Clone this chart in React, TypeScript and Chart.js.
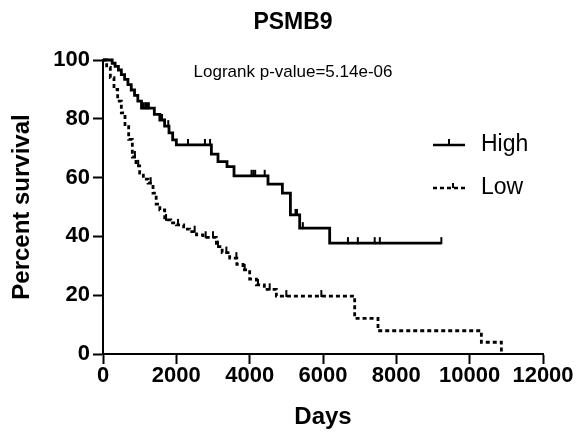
import React, { useEffect, useRef } from "react";
import { Chart, registerables } from "chart.js";

Chart.register(...registerables);

const FONT = '"Liberation Sans", Arial, Helvetica, sans-serif';

const titleText = "PSMB9";
const subtitleText = "Logrank p-value=5.14e-06";
const xTitle = "Days";
const yTitle = "Percent survival";
const seriesNames = ["High", "Low"];
const xTickValues = [0, 2000, 4000, 6000, 8000, 10000, 12000];
const yTickValues = [0, 20, 40, 60, 80, 100];

// Kaplan-Meier step points (day of event, survival after event)
const highDays = [0, 250, 330, 420, 500, 590, 680, 770, 860, 950, 1050, 1400, 1550, 1680, 1800, 1900, 2000, 2956, 3136, 3382, 3573, 4500, 4892, 5111, 5364, 6182, 9228];
const highSurv = [100, 98.9, 97.8, 96.6, 95.0, 93.4, 91.6, 89.8, 88.0, 86.0, 83.6, 81.5, 79.6, 77.5, 75.2, 72.8, 71.1, 68.0, 65.4, 63.7, 60.6, 57.8, 54.7, 47.3, 42.8, 37.7, 37.7];
const highCensorDays = [1100, 1150, 1200, 1250, 1560, 1610, 1780, 2318, 2780, 2920, 4050, 4100, 4150, 4410, 5250, 5290, 5450, 6680, 6950, 7410, 7550, 9228];

const lowDays = [0, 100, 200, 300, 400, 500, 600, 700, 800, 900, 1000, 1100, 1228, 1364, 1450, 1550, 1683, 1850, 2000, 2200, 2364, 2550, 2727, 3092, 3250, 3455, 3650, 3818, 4000, 4183, 4400, 4728, 6864, 7500, 10319, 10865];
const lowSurv = [100, 97.5, 94, 90, 86, 82, 78, 73, 67, 64, 61.5, 59.5, 58.1, 54.7, 51, 49, 45.6, 44.6, 43.9, 42.5, 41.6, 40.5, 39.7, 36.5, 34.5, 32.6, 30.5, 28.6, 25.5, 23.5, 22, 19.7, 12.1, 7.9, 4.0, 0];
const lowCensorDays = [870, 960, 1300, 1720, 2045, 2500, 2800, 3000, 3136, 3365, 3638, 3864, 4227, 4546, 5000, 5955];

function survivalAt(days: number[], surv: number[], t: number): number {
  let s = surv[0];
  for (let i = 0; i < days.length; i++) {
    if (days[i] <= t) s = surv[i];
  }
  return s;
}

const censorPlugin = {
  id: "censorMarks",
  afterDatasetsDraw(chart: any) {
    const { ctx, scales } = chart;
    const xs = scales.x;
    const ys = scales.y;
    const groups = [
      { days: highDays, surv: highSurv, censor: highCensorDays },
      { days: lowDays, surv: lowSurv, censor: lowCensorDays },
    ];
    ctx.save();
    ctx.strokeStyle = "#000";
    ctx.lineWidth = 2;
    for (const g of groups) {
      for (const t of g.censor) {
        const s = survivalAt(g.days, g.surv, t);
        const x = xs.getPixelForValue(t);
        const y = ys.getPixelForValue(s);
        ctx.beginPath();
        ctx.moveTo(x, y + 1);
        ctx.lineTo(x, y - 6);
        ctx.stroke();
      }
    }
    ctx.restore();
  },
};

const textPlugin = {
  id: "textAndLegend",
  afterDraw(chart: any) {
    const { ctx } = chart;
    ctx.save();
    ctx.fillStyle = "#000";
    ctx.textAlign = "center";
    ctx.textBaseline = "middle";
    ctx.font = `bold 23px ${FONT}`;
    ctx.fillText(titleText, 293, 23);
    ctx.font = `17px ${FONT}`;
    ctx.fillText(subtitleText, 293, 72);

    // legend
    ctx.strokeStyle = "#000";
    ctx.lineWidth = 2.5;
    ctx.beginPath();
    ctx.moveTo(433, 145);
    ctx.lineTo(465, 145);
    ctx.stroke();
    ctx.lineWidth = 2;
    ctx.beginPath();
    ctx.moveTo(449, 145);
    ctx.lineTo(449, 139);
    ctx.stroke();

    ctx.lineWidth = 2.5;
    ctx.setLineDash([4, 3]);
    ctx.beginPath();
    ctx.moveTo(433, 188);
    ctx.lineTo(465, 188);
    ctx.stroke();
    ctx.setLineDash([]);
    ctx.lineWidth = 2;
    ctx.beginPath();
    ctx.moveTo(453, 188);
    ctx.lineTo(453, 183);
    ctx.stroke();

    ctx.textAlign = "left";
    ctx.font = `23px ${FONT}`;
    ctx.fillText(seriesNames[0], 481, 145);
    ctx.fillText(seriesNames[1], 481, 188);
    ctx.restore();
  },
};

export default function App() {
  const ref = useRef<HTMLCanvasElement | null>(null);

  useEffect(() => {
    const canvas = ref.current;
    if (!canvas) return;
    const chart = new Chart(canvas, {
      type: "line",
      data: {
        datasets: [
          {
            label: seriesNames[0],
            data: highDays.map((d, i) => ({ x: d, y: highSurv[i] })),
            borderColor: "#000",
            borderWidth: 2.8,
            stepped: true,
            pointRadius: 0,
            fill: false,
            clip: false as any,
          },
          {
            label: seriesNames[1],
            data: lowDays.map((d, i) => ({ x: d, y: lowSurv[i] })),
            borderColor: "#000",
            borderWidth: 2.8,
            borderDash: [4, 3],
            stepped: true,
            pointRadius: 0,
            fill: false,
            clip: false as any,
          },
        ],
      },
      options: {
        responsive: false,
        devicePixelRatio: 1,
        animation: false,
        layout: { padding: { top: 60, right: 34, left: 0, bottom: 0 } },
        plugins: {
          legend: { display: false },
          title: { display: false },
          tooltip: { enabled: false },
        },
        scales: {
          x: {
            type: "linear",
            min: 0,
            max: 12000,
            afterFit: (scale: any) => {
              scale.height = 78;
            },
            afterBuildTicks: (scale: any) => {
              scale.ticks = xTickValues.map((v) => ({ value: v }));
            },
            ticks: {
              color: "#000",
              font: { family: FONT, size: 22, weight: "bold" },
              padding: -1,
              maxRotation: 0,
              autoSkip: false,
              callback: (v: any) => String(v),
            },
            grid: {
              display: true,
              drawOnChartArea: false,
              drawTicks: true,
              tickLength: 10,
              tickWidth: 2,
              tickColor: "#000",
            },
            border: { display: true, color: "#000", width: 2 },
            title: {
              display: true,
              text: xTitle,
              color: "#000",
              font: { family: FONT, size: 24, weight: "bold" },
              padding: { top: 0, bottom: 0 },
            },
          },
          y: {
            type: "linear",
            min: 0,
            max: 100,
            afterFit: (scale: any) => {
              scale.width = 103;
            },
            afterBuildTicks: (scale: any) => {
              scale.ticks = yTickValues.map((v) => ({ value: v }));
            },
            ticks: {
              color: "#000",
              font: { family: FONT, size: 22, weight: "bold" },
              padding: 3,
              autoSkip: false,
              callback: (v: any) => String(v),
            },
            grid: {
              display: true,
              drawOnChartArea: false,
              drawTicks: true,
              tickLength: 10,
              tickWidth: 2,
              tickColor: "#000",
            },
            border: { display: true, color: "#000", width: 2 },
            title: {
              display: true,
              text: yTitle,
              color: "#000",
              font: { family: FONT, size: 24, weight: "bold" },
              padding: { top: 8, bottom: 0 },
            },
          },
        },
      } as any,
      plugins: [censorPlugin, textPlugin],
    });
    return () => chart.destroy();
  }, []);

  return (
    <div style={{ position: "fixed", left: 0, top: 0, width: 577, height: 432, background: "#fff" }}>
      <canvas ref={ref} width={577} height={432} style={{ display: "block", width: 577, height: 432 }} />
    </div>
  );
}
